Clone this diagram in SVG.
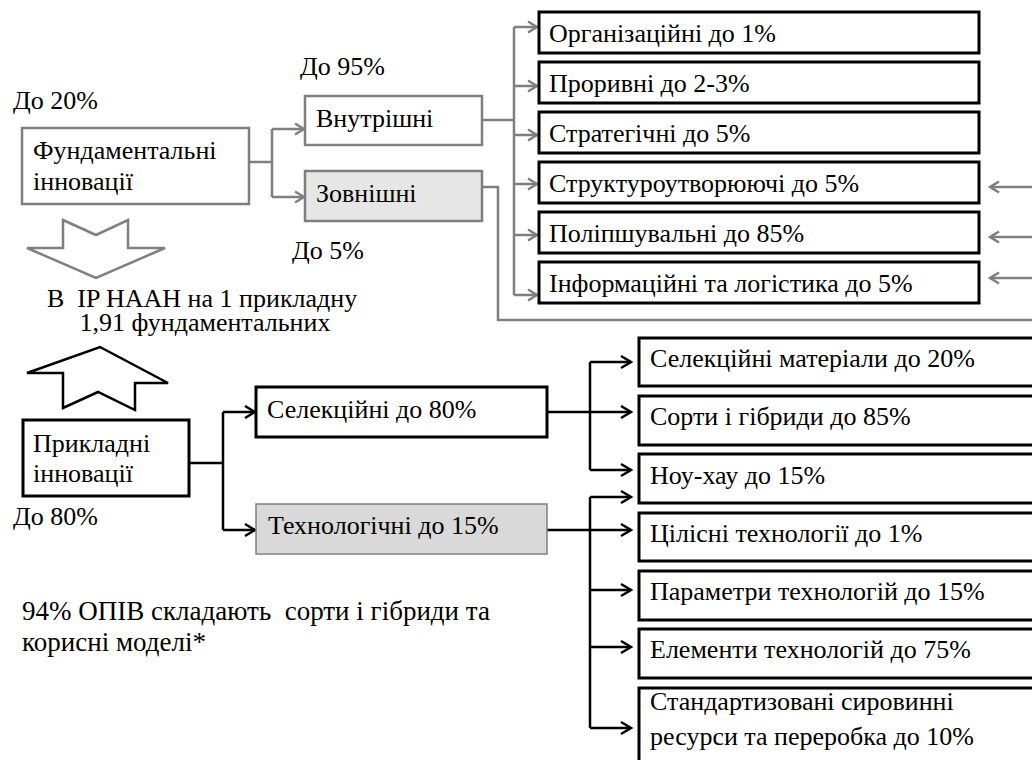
<svg xmlns="http://www.w3.org/2000/svg" width="1032" height="760" viewBox="0 0 1032 760">
<style>
.t{font-family:"Liberation Serif";font-size:26px;fill:#000}
.note{font-family:"Liberation Serif";font-size:27px;fill:#000}
.gb{fill:#fff;stroke:#7f7f7f;stroke-width:2.5}
.bb{fill:#fff;stroke:#000;stroke-width:3}
.gc{fill:none;stroke:#7f7f7f;stroke-width:2.5}
.bc{fill:none;stroke:#000;stroke-width:2.5}
</style>
<rect width="1032" height="760" fill="#fff"/>

<g id="connectors">
<path class="gc" d="M249,162 H272 M272,129 V197 M272,129 H304 M272,197 H304"/>
<path class="gc" d="M295,123.5 L304,129 L295,134.5 M295,191.5 L304,197 L295,202.5"/>
<path class="gc" d="M482,120 H514 M514,27 V295 M514,27 H537 M514,86 H537 M514,135 H537 M514,184 H537 M514,235 H537 M514,295 H537"/>
<path class="gc" d="M528,21.5 L537,27 L528,32.5 M528,80.5 L537,86 L528,91.5 M528,129.5 L537,135 L528,140.5 M528,178.5 L537,184 L528,189.5 M528,229.5 L537,235 L528,240.5 M528,289.5 L537,295 L528,300.5"/>
<path class="gc" d="M482,187 H498 V320 H1034"/>
<path class="gc" d="M1034,187 H990 M1034,237 H990 M1034,278 H990"/>
<path class="gc" d="M999,181.5 L990,187 L999,192.5 M999,231.5 L990,237 L999,242.5 M999,272.5 L990,278 L999,283.5"/>
<path class="bc" d="M189,463 H223 M223,412 V530 M223,412 H255 M223,530 H255"/>
<path class="bc" d="M245,406 L255,412 L245,418 M245,524 L255,530 L245,536"/>
<path class="bc" d="M547,412 H590 M590,362 V470 M590,362 H631 M590,412 H631 M590,470 H631"/>
<path class="bc" d="M547,530 H590 M590,497 V728 M590,497 H631 M590,530 H631 M590,590 H631 M590,647 H631 M590,728 H631"/>
<path class="bc" d="M621,356 L631,362 L621,368 M621,406 L631,412 L621,418 M621,464 L631,470 L621,476 M621,491 L631,497 L621,503 M621,524 L631,530 L621,536 M621,584 L631,590 L621,596 M621,641 L631,647 L621,653 M621,722 L631,728 L621,734"/>
</g>

<g id="label-do20"><text class="t" x="13" y="109">До 20%</text></g>
<g id="label-do95"><text class="t" x="300" y="75">До 95%</text></g>
<g id="label-do5"><text class="t" x="292" y="259">До 5%</text></g>
<g id="label-do80"><text class="t" x="13" y="525">До 80%</text></g>

<g id="fundamental"><rect class="gb" x="22" y="128" width="227" height="76"/><text class="t" x="33" y="159">Фундаментальні</text><text class="t" x="33" y="190">інновації</text></g>
<g id="vnutrishni"><rect class="gb" x="305" y="96" width="177" height="49"/><text class="t" x="316" y="127">Внутрішні</text></g>
<g id="zovnishni"><rect x="305" y="171" width="177" height="50" fill="#e6e6e6" stroke="#7f7f7f" stroke-width="2.5"/><text class="t" x="316" y="202">Зовнішні</text></g>

<g id="down-arrow"><polygon points="63,220 96,235 128,220 128,248 165,248 96,278 27,248 63,248" fill="#fff" stroke="#7f7f7f" stroke-width="2.5"/></g>
<g id="ratio-text"><text class="t" x="47" y="307">В &#160;IP НААН на 1 прикладну</text><text class="t" x="205" y="331" text-anchor="middle">1,91 фундаментальних</text></g>
<g id="up-arrow"><polygon points="100,347 168,383 135,383 135,410 98,392 63,408 63,373 27,373" fill="#fff" stroke="#000" stroke-width="2.5"/></g>

<g id="org"><rect class="bb" x="539" y="12" width="440" height="41"/><text class="t" x="549" y="42">Організаційні до 1%</text></g>
<g id="prorivni"><rect class="bb" x="539" y="62" width="440" height="41"/><text class="t" x="549" y="92">Проривні до 2-3%</text></g>
<g id="strateg"><rect class="bb" x="539" y="112" width="440" height="41"/><text class="t" x="549" y="142">Стратегічні до 5%</text></g>
<g id="struktur"><rect class="bb" x="539" y="162" width="440" height="41"/><text class="t" x="549" y="192">Структуроутворюючі до 5%</text></g>
<g id="polipsh"><rect class="bb" x="539" y="212" width="440" height="41"/><text class="t" x="549" y="242">Поліпшувальні до 85%</text></g>
<g id="inform"><rect class="bb" x="539" y="262" width="440" height="41"/><text class="t" x="549" y="292">Інформаційні та логістика до 5%</text></g>

<g id="prykladni"><rect class="bb" x="23" y="420" width="166" height="76"/><text class="t" x="33" y="452">Прикладні</text><text class="t" x="33" y="482">інновації</text></g>
<g id="selekc"><rect class="bb" x="256" y="387" width="291" height="50"/><text class="t" x="267" y="418">Селекційні до 80%</text></g>
<g id="tehnol"><rect x="256" y="504" width="291" height="50" fill="#d9d9d9" stroke="#7f7f7f" stroke-width="1.5"/><text class="t" x="268" y="534">Технологічні до 15%</text></g>

<g id="sel-mat"><rect class="bb" x="639" y="338" width="400" height="48"/><text class="t" x="650" y="367">Селекційні матеріали до 20%</text></g>
<g id="sorty"><rect class="bb" x="639" y="396" width="400" height="49"/><text class="t" x="650" y="425">Сорти і гібриди до 85%</text></g>
<g id="nou-hau"><rect class="bb" x="639" y="454" width="400" height="49"/><text class="t" x="650" y="484">Ноу-хау до 15%</text></g>
<g id="tsilisni"><rect class="bb" x="639" y="513" width="400" height="48"/><text class="t" x="650" y="542">Цілісні технології до 1%</text></g>
<g id="paramet"><rect class="bb" x="639" y="571" width="400" height="49"/><text class="t" x="650" y="600">Параметри технологій до 15%</text></g>
<g id="element"><rect class="bb" x="639" y="629" width="400" height="49"/><text class="t" x="650" y="658">Елементи технологій до 75%</text></g>
<g id="standart"><rect class="bb" x="639" y="688" width="400" height="90"/><text class="t" x="650" y="710">Стандартизовані сировинні</text><text class="t" x="650" y="745">ресурси та переробка до 10%</text></g>

<g id="note"><text class="note" x="22" y="620">94% ОПІВ складають &#160;сорти і гібриди та</text><text class="note" x="22" y="651">корисні моделі*</text></g>
</svg>
